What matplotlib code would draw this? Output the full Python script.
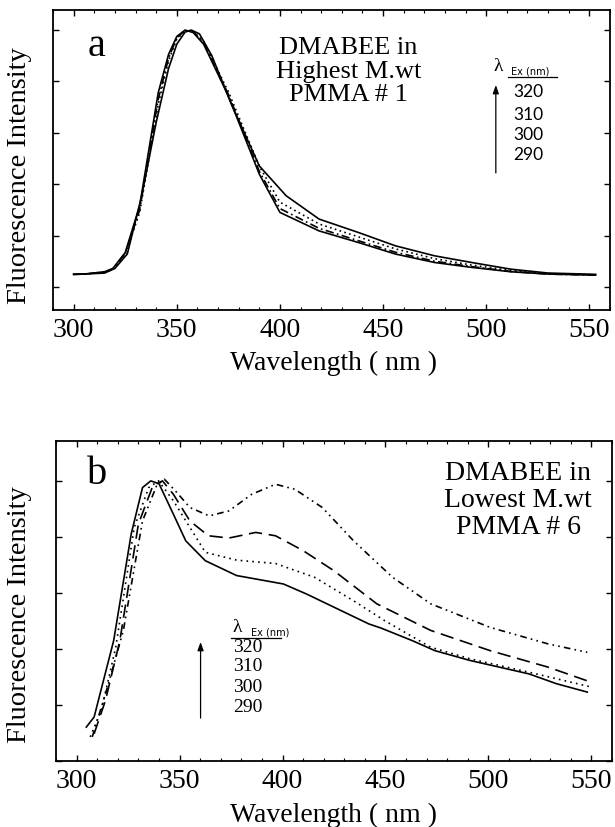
import numpy as np
import matplotlib
matplotlib.use('Agg')
import matplotlib.pyplot as plt
from matplotlib.ticker import MultipleLocator

plt.rcParams['font.family'] = ['Liberation Serif', 'DejaVu Serif']

# ---- panel a : DMABEE in highest M.wt PMMA #1 ----
wl_a_hi = [300, 305, 315, 320, 326, 333, 340, 346, 350, 354, 357, 361, 367, 376,
           390, 403, 419, 438, 456, 475, 493, 512, 530, 553]
fl_a_hi = [0.049, 0.050, 0.054, 0.072, 0.128, 0.355, 0.640, 0.850, 0.945, 0.992,
           1.000, 0.985, 0.900, 0.720, 0.471, 0.355, 0.264, 0.212, 0.160, 0.121,
           0.095, 0.069, 0.054, 0.049]
wl_a = [300, 305, 315, 319, 325, 332, 341, 346, 350, 354, 358, 363, 375, 390, 400,
        419, 438, 456, 475, 493, 512, 530, 553]
fl_a_290 = [0.049, 0.050, 0.059, 0.072, 0.134, 0.316, 0.756, 0.905, 0.975, 1.000,
            0.990, 0.945, 0.743, 0.439, 0.290, 0.218, 0.173, 0.128, 0.095, 0.076,
            0.059, 0.050, 0.046]
fl_a_300 = [0.049, 0.050, 0.057, 0.068, 0.125, 0.290, 0.710, 0.880, 0.965, 0.996,
            0.995, 0.955, 0.760, 0.470, 0.330, 0.245, 0.195, 0.148, 0.110, 0.085,
            0.064, 0.052, 0.047]
fl_a_310 = [0.049, 0.050, 0.058, 0.070, 0.130, 0.300, 0.730, 0.890, 0.970, 0.998,
            0.993, 0.950, 0.750, 0.450, 0.305, 0.228, 0.180, 0.135, 0.100, 0.079,
            0.060, 0.050, 0.046]

# ---- panel b : DMABEE in lowest M.wt PMMA #6 ----
wl_b_290 = [304.7, 308.5, 318, 326.5, 332, 336, 340, 347, 353, 362.5, 377.7, 400.4,
            411.7, 425, 442, 447.7, 462.9, 474, 491, 519.7, 533, 548]
fl_b_290 = [0.121, 0.157, 0.430, 0.810, 0.976, 1.000, 0.990, 0.881, 0.786, 0.715,
            0.662, 0.632, 0.596, 0.549, 0.489, 0.475, 0.430, 0.394, 0.359, 0.311,
            0.276, 0.246]
wl_b_300 = [306.6, 312, 319, 328, 335, 339.8, 347, 355, 362.5, 377.7, 396.6, 415.5,
            434.5, 449.6, 472, 491, 519.7, 550]
fl_b_300 = [0.086, 0.181, 0.406, 0.834, 0.976, 1.000, 0.929, 0.834, 0.745, 0.717,
            0.705, 0.656, 0.572, 0.501, 0.406, 0.365, 0.317, 0.264]
wl_b_310 = [308.5, 314, 321, 330, 337, 341.7, 347, 355, 364, 374, 387, 396.6, 410,
            425, 445.8, 472, 500.8, 529, 550]
fl_b_310 = [0.097, 0.216, 0.430, 0.846, 0.982, 1.000, 0.952, 0.857, 0.804, 0.796,
            0.816, 0.804, 0.751, 0.679, 0.561, 0.466, 0.394, 0.335, 0.281]
wl_b_320 = [307.6, 315, 322.7, 332, 338.8, 342.6, 348, 355, 364.4, 374, 385, 396.6,
            406, 419.3, 434.5, 453.4, 472, 500.8, 529, 548]
fl_b_320 = [0.086, 0.264, 0.466, 0.857, 0.982, 1.006, 0.964, 0.905, 0.875, 0.893,
            0.952, 0.988, 0.970, 0.905, 0.786, 0.656, 0.561, 0.477, 0.418, 0.388]

ex_labels = ['320', '310', '300', '290']
xticks = [300, 350, 400, 450, 500, 550]

fig = plt.figure(figsize=(6.15, 8.27), dpi=100)
ax_a = fig.add_axes([0.0862, 0.6251, 0.9057, 0.3628])
ax_b = fig.add_axes([0.0911, 0.0798, 0.904, 0.387])

lw = 1.2
ax_a.plot(wl_a_hi, fl_a_hi, '-', color='k', lw=lw)
ax_a.plot(wl_a, fl_a_300, color='k', lw=lw, ls=(0, (1, 2)))
ax_a.plot(wl_a, fl_a_310, color='k', lw=lw, ls=(0, (5, 2, 1, 2)))
ax_a.plot(wl_a, fl_a_290, '-', color='k', lw=lw)
ax_a.set_ylim(-0.09, 1.078)

ax_b.plot(wl_b_290, fl_b_290, '-', color='k', lw=lw)
ax_b.plot(wl_b_300, fl_b_300, color='k', lw=lw, ls=(0, (1, 2.5)))
ax_b.plot(wl_b_310, fl_b_310, color='k', lw=lw, ls=(0, (8, 4)))
ax_b.plot(wl_b_320, fl_b_320, color='k', lw=lw, ls=(0, (4, 2.5, 1, 2.5, 1, 2.5)))
ax_b.set_ylim(0, 1.1425)

for ax in (ax_a, ax_b):
    ax.set_xlim(290, 560)
    ax.set_xticks(xticks)
    ax.xaxis.set_minor_locator(MultipleLocator(10))
    ax.yaxis.set_major_locator(MultipleLocator(0.2))
    ax.tick_params(which='both', direction='in', top=True, right=True,
                   labelleft=False, labelsize=20, pad=6)
    ax.tick_params(which='major', length=4, width=1)
    ax.tick_params(which='minor', length=2, width=0.8)
    for s in ax.spines.values():
        s.set_linewidth(1.3)

fig.text(333 / 615, 1 - 363 / 827, 'Wavelength ( nm )', ha='center', va='center', fontsize=20)
fig.text(334 / 615, 1 - 815 / 827, 'Wavelength ( nm )', ha='center', va='center', fontsize=20)
fig.text(20 / 615, 1 - 176 / 827, 'Fluorescence Intensity', rotation=90,
         ha='center', va='center', fontsize=20.5)
fig.text(20 / 615, 1 - 615 / 827, 'Fluorescence Intensity', rotation=90,
         ha='center', va='center', fontsize=20.5)

# panel letters and sample captions
ax_a.text(0.079, 0.877, 'a', transform=ax_a.transAxes, fontsize=29, ha='center', va='center')
ax_b.text(0.073, 0.894, 'b', transform=ax_b.transAxes, fontsize=29, ha='center', va='center')
ax_a.text(0.53, 0.795, 'DMABEE in\nHighest M.wt\nPMMA # 1', transform=ax_a.transAxes,
          fontsize=19, ha='center', va='center', linespacing=1.1)
ax_b.text(0.831, 0.814, 'DMABEE in\nLowest M.wt\nPMMA # 6', transform=ax_b.transAxes,
          fontsize=20, ha='center', va='center', linespacing=1.1)

# excitation wavelength keys
def ex_key(ax, xl, yl, xa, ya0, ya1, xu0, xu1, yu, xn, yn, num_family, num_size):
    t = ax.transAxes
    ax.text(xl, yl, 'λ', transform=t, fontsize=14, ha='center', va='bottom')
    ax.text(xl + 0.024, yl - 0.005, 'Ex (nm)', transform=t, fontsize=7,
            family='DejaVu Sans', ha='left', va='bottom')
    ax.plot([xu0, xu1], [yu, yu], color='k', lw=0.9, transform=t)
    ax.annotate('', xy=(xa, ya1), xytext=(xa, ya0), xycoords=t, textcoords=t,
                arrowprops=dict(arrowstyle='-|>,head_length=0.5,head_width=0.18',
                                color='k', lw=0.9, shrinkA=0, shrinkB=0))
    for lab, yy in zip(ex_labels, yn):
        ax.text(xn, yy, lab, transform=t, fontsize=num_size, family=num_family,
                ha='center', va='center')

ex_key(ax_a, 0.799, 0.785, 0.795, 0.457, 0.75, 0.817, 0.905, 0.777,
       0.853, [0.727, 0.65, 0.583, 0.517], 'Lato', 12.5)
ex_key(ax_b, 0.326, 0.392, 0.26, 0.134, 0.372, 0.315, 0.405, 0.384,
       0.345, [0.356, 0.294, 0.231, 0.166], 'Liberation Serif', 14)

fig.savefig('out.png', dpi=100)
